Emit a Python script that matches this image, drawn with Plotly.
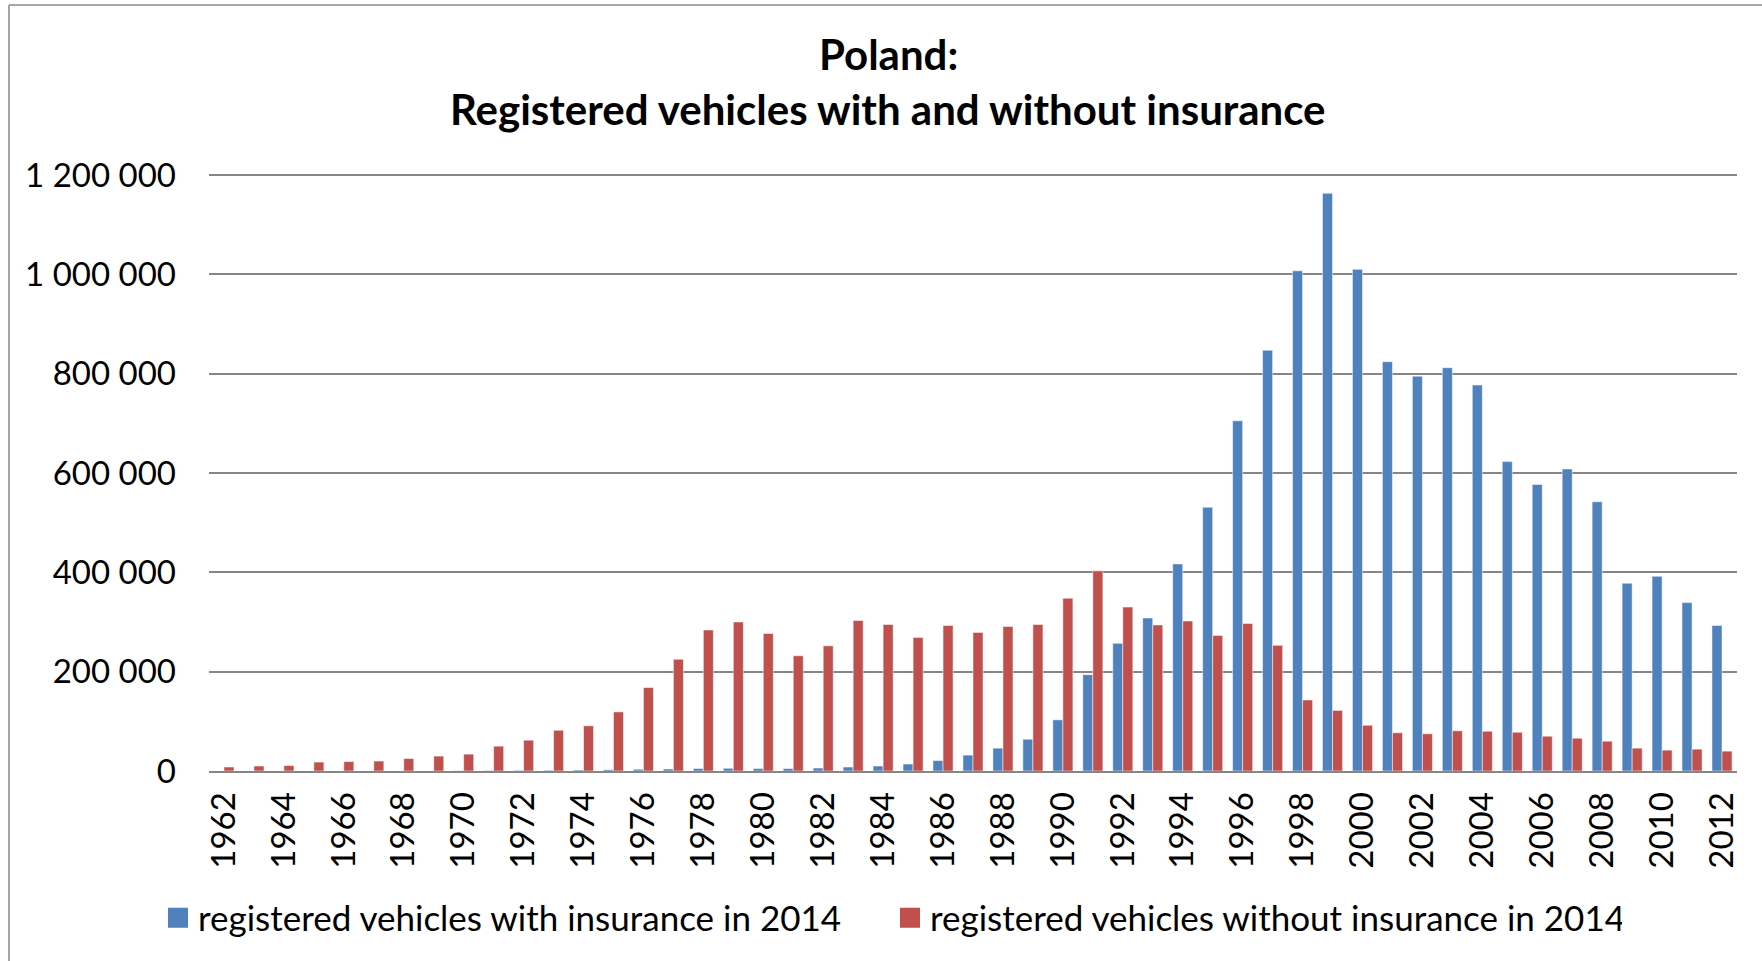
import plotly.graph_objects as go

years = list(range(1962, 2013))

with_insurance = [
    0, 0, 0, 0, 0, 0, 0, 0,                      # 1962-1969
    500, 800, 1200, 1500, 2000, 2500, 3500, 4000,  # 1970-1977
    5000, 5500, 5000, 5000, 6000, 8000, 10000, 14000,  # 1978-1985
    21000, 32000, 46000, 64000, 103000, 194000, 257000, 308000,  # 1986-1993
    417000, 531000, 705000, 847000, 1007000, 1163000, 1010000, 824000,  # 1994-2001
    795000, 812000, 777000, 623000, 577000, 608000, 542000, 378000,  # 2002-2009
    392000, 339000, 293000,  # 2010-2012
]

without_insurance = [
    8000, 10000, 11000, 18000, 19000, 20000, 25000, 30000,  # 1962-1969
    34000, 50000, 62000, 82000, 91000, 119000, 168000, 225000,  # 1970-1977
    284000, 300000, 277000, 232000, 252000, 303000, 295000, 269000,  # 1978-1985
    293000, 279000, 291000, 295000, 348000, 403000, 330000, 294000,  # 1986-1993
    302000, 273000, 297000, 253000, 143000, 122000, 92000, 77000,  # 1994-2001
    75000, 81000, 80000, 78000, 70000, 66000, 60000, 46000,  # 2002-2009
    42000, 44000, 40000,  # 2010-2012
]

series_names = [
    "registered vehicles with insurance in 2014",
    "registered vehicles without insurance in 2014",
]
title_lines = ["Poland:", "Registered vehicles with and without insurance"]
y_ticks = [0, 200000, 400000, 600000, 800000, 1000000, 1200000]
x_ticks = years[::2]

BLUE = "#4F81BD"
RED = "#C0504D"
FONT = "Lato"

fig = go.Figure()
fig.add_trace(go.Bar(x=years, y=with_insurance, name=series_names[0],
                     marker=dict(color=BLUE, line=dict(color="rgba(255,255,255,0.5)", width=1)),
                     showlegend=False))
fig.add_trace(go.Bar(x=years, y=without_insurance, name=series_names[1],
                     marker=dict(color=RED, line=dict(color="rgba(255,255,255,0.5)", width=1)),
                     showlegend=False))
# legend entries with large square swatches
for nm, col in zip(series_names, [BLUE, RED]):
    fig.add_trace(go.Scatter(x=[None], y=[None], mode="markers", name=nm,
                             marker=dict(symbol="square", size=16, color=col,
                                         line=dict(color=col, width=4))))

W, H = 1762, 961
L, R, T, B = 209, 25, 170, 190
PH = H - T - B
PW = W - L - R

def py(pix):
    return (H - B - pix) / PH

def px(pix):
    return (pix - L) / PW

fig.update_layout(
    width=W, height=H,
    margin=dict(l=L, r=R, t=T, b=B),
    paper_bgcolor="white", plot_bgcolor="white",
    separators=". ",
    barmode="group", bargap=0.33, bargroupgap=0,
    font=dict(family=FONT, size=33, color="black"),
    xaxis=dict(range=[1961.5, 2012.5], tickmode="array", tickvals=x_ticks,
               ticktext=[str(v) for v in x_ticks], tickangle=-90,
               showgrid=False, showline=True, linecolor="#868686", linewidth=2,
               ticks="", ticklabelstandoff=6, tickfont=dict(size=33)),
    yaxis=dict(range=[0, 1210000], tickmode="array", tickvals=y_ticks,
               tickformat=",d", showgrid=True, gridcolor="#868686", gridwidth=2,
               zeroline=False, showline=False, ticks="", ticklabelstandoff=32,
               tickfont=dict(size=33)),
    legend=dict(orientation="h", x=px(158), xanchor="left", y=py(918), yanchor="middle",
                font=dict(size=35), itemwidth=30, tracegroupgap=0,
                entrywidth=687, entrywidthmode="pixels",
                bgcolor="rgba(0,0,0,0)"),
    annotations=[
        dict(text="<b>%s</b>" % title_lines[0], xref="paper", yref="paper",
             x=px(888), y=py(54), xanchor="center", yanchor="middle", showarrow=False,
             font=dict(size=42, family=FONT)),
        dict(text="<b>%s</b>" % title_lines[1], xref="paper", yref="paper",
             x=px(888), y=py(109), xanchor="center", yanchor="middle", showarrow=False,
             font=dict(size=42, family=FONT)),
    ],
    shapes=[
        dict(type="line", xref="paper", yref="paper", x0=px(9), x1=px(9), y0=py(5), y1=py(961),
             line=dict(color="#A6A6A6", width=2)),
        dict(type="line", xref="paper", yref="paper", x0=px(9), x1=px(1762), y0=py(5), y1=py(5),
             line=dict(color="#A6A6A6", width=2)),
    ],
)

fig.write_html("out.html")
